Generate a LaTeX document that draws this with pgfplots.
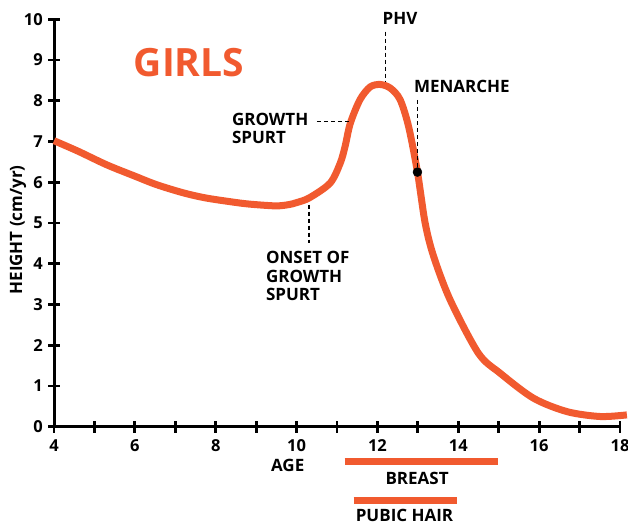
\documentclass[border=0pt]{standalone}
\usepackage{fontspec}
\setmainfont{Open Sans}
\usepackage{pgfplots}
\pgfplotsset{compat=1.18}
\definecolor{girl}{HTML}{F15A2F}
\begin{document}
\begin{tikzpicture}
\begin{axis}[
  scale only axis, width=566pt, height=407.4pt,
  xmin=4, xmax=18, ymin=0, ymax=10,
  axis lines=left, axis line style={line width=3pt, -},
  xtick={4,6,...,18}, minor xtick={5,7,...,17},
  ytick={0,...,10},
  xtick pos=left, ytick pos=left,
  tick align=center, major tick length=12pt, minor tick length=12pt,
  every tick/.style={line width=2.8pt, black},
  clip=false,
  /pgf/number format/assume math mode=true,
  ticklabel style={font=\fontsize{16.5}{18}\selectfont\bfseries, inner sep=0pt},
  xticklabel style={yshift=-7pt},
  yticklabel style={xshift=-5pt},
]
\addplot[girl, line width=7pt, smooth, tension=0.5, line cap=butt] coordinates {
(4.0,7.02) (4.6,6.76) (5.3,6.43) (6.0,6.15) (6.54,5.94) (7.2,5.74) (7.78,5.61)
(8.6,5.49) (9.0,5.45) (9.5,5.42) (9.8,5.45) (10.0,5.50) (10.32,5.62) (10.83,5.98)
(11.08,6.47) (11.20,6.88) (11.33,7.45) (11.57,8.03) (11.82,8.34) (12.07,8.40)
(12.32,8.31) (12.56,8.03) (12.77,7.37) (12.99,6.25) (13.18,5.0) (13.39,4.18)
(13.80,3.11) (14.50,1.80) (15.04,1.31) (15.86,0.70) (16.69,0.37) (17.51,0.25) (18.17,0.29)
};
\addplot[only marks, mark=*, mark size=4.5pt, black] coordinates {(12.99,6.25)};
\addplot[girl, line width=7pt, line cap=butt] coordinates {(11.19,-0.86) (14.98,-0.86)};
\addplot[girl, line width=7pt, line cap=butt] coordinates {(11.41,-1.82) (13.98,-1.82)};
\begin{scope}[dash pattern=on 4pt off 3pt, line width=1.3pt]
\draw (axis cs:12.20,9.70) -- (axis cs:12.20,8.47);
\draw (axis cs:12.99,8.02) -- (axis cs:12.99,6.25);
\draw (axis cs:10.50,7.49) -- (axis cs:11.30,7.49);
\draw (axis cs:10.31,5.45) -- (axis cs:10.31,4.51);
\end{scope}
\begin{scope}[every node/.style={font=\fontsize{17}{17.5}\selectfont\bfseries, inner sep=0pt}]
\node at (axis cs:12.56,10.02) {PHV};
\node[anchor=west] at (axis cs:12.90,8.36) {MENARCHE};
\node[anchor=west, align=left] at (axis cs:8.40,7.32) {GROWTH\\SPURT};
\node[anchor=west, align=left, font=\fontsize{17}{18.5}\selectfont\bfseries] at (axis cs:9.24,3.70) {ONSET OF\\GROWTH\\SPURT};
\node at (axis cs:9.78,-0.94) {AGE};
\node at (axis cs:12.98,-1.26) {BREAST};
\node at (axis cs:12.67,-2.19) {PUBIC HAIR};
\node[rotate=90] at ([xshift=-36pt]axis cs:4,4.83) {HEIGHT (cm/yr)};
\node[text=girl, font=\fontsize{39}{40}\selectfont\bfseries] at (axis cs:7.34,8.94) {GIRLS};
\end{scope}
\end{axis}
\pgfresetboundingbox
\path[use as bounding box] (-54pt,-100.3pt) rectangle (574pt,426.7pt);
\end{tikzpicture}
\end{document}
